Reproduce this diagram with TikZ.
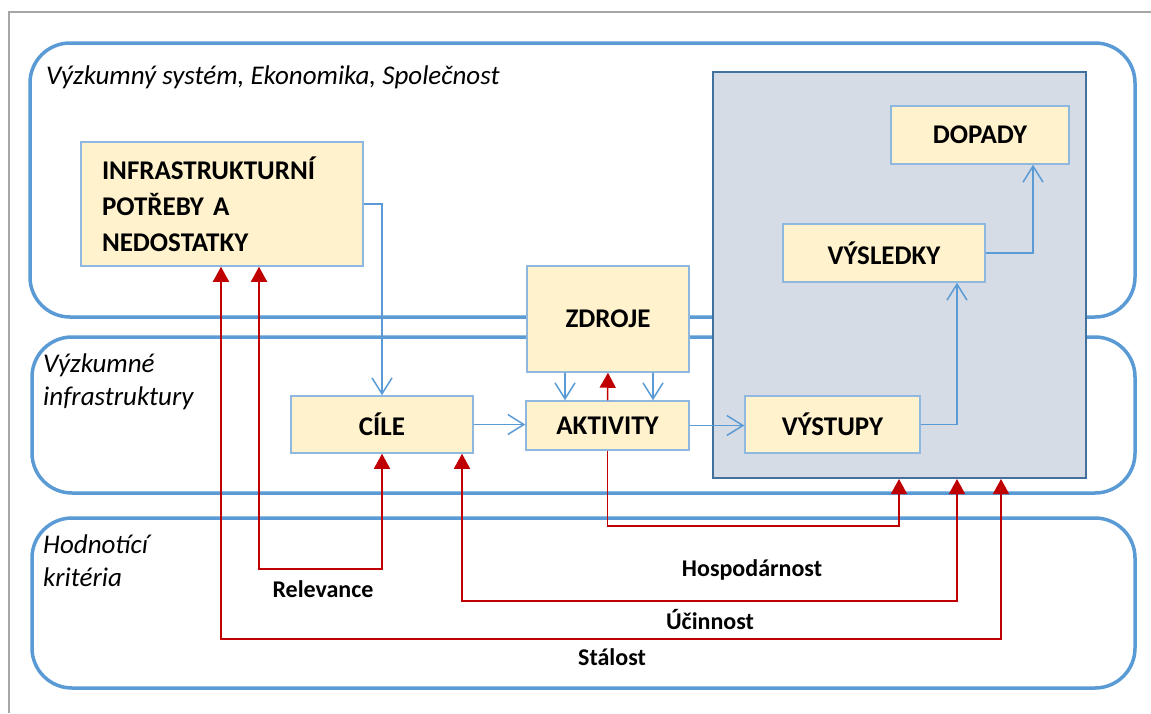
\documentclass[tikz,border=0pt]{standalone}
\usepackage{fontspec}
\setmainfont{Carlito}
\usetikzlibrary{arrows.meta}
\definecolor{frameblue}{HTML}{5B9BD5}
\definecolor{nodeborder}{HTML}{8FB8E0}
\definecolor{nodefill}{HTML}{FFF2CC}
\definecolor{grayfill}{HTML}{D6DCE5}
\definecolor{grayborder}{HTML}{41719C}
\definecolor{redline}{HTML}{C00000}
\definecolor{outerframe}{HTML}{A6A6A6}
\tikzset{
  layer/.style={draw=frameblue, line width=3.5pt, rounded corners=40pt},
  box/.style={draw=nodeborder, fill=nodefill, line width=1.5pt, inner sep=0pt,
    font=\fontsize{27}{36}\selectfont\bfseries},
  impact/.style={draw=grayborder, fill=grayfill, line width=2pt, inner sep=0pt},
  flow/.style={draw=frameblue, line width=1.5pt, -{Straight Barb[length=16pt,width=20pt]}},
  crit/.style={draw=redline, line width=1.5pt, -{Triangle[length=15pt,width=16pt]}},
  crit2/.style={draw=redline, line width=1.5pt, {Triangle[length=15pt,width=16pt]}-{Triangle[length=15pt,width=16pt]}},
  laytext/.style={font=\fontsize{27}{33}\selectfont\itshape, inner sep=0pt, align=left},
  crittext/.style={font=\fontsize{24}{28}\selectfont\bfseries, inner sep=0pt, anchor=base},
}
\begin{document}
\begin{tikzpicture}[x=1pt,y=-1pt]
\useasboundingbox (0,0) rectangle (1151,713);
\fill[white] (0,0) rectangle (1151,713);
% outer frame
\draw[outerframe, line width=2pt] (9,713) -- (9,12) -- (1151,12);
% layers
\draw[layer] (30,43) rectangle (1135,317);
\draw[layer] (32,337) rectangle (1135,493);
\draw[layer] (32,518) rectangle (1135,688);
\node[laytext, anchor=base west] (lay1) at (46,84) {Výzkumný systém, Ekonomika, Společnost};
\node[laytext, anchor=base west] (lay2) at (43,372) {Výzkumné};
\node[laytext, anchor=base west] (lay2b) at (43,405) {infrastruktury};
\node[laytext, anchor=base west] (lay3) at (43,553) {Hodnotící};
\node[laytext, anchor=base west] (lay3b) at (43,586) {kritéria};
% impact box
\node[impact, minimum width=373pt, minimum height=406pt] (impactbox) at (899.5,275) {};
% nodes
\node[box, minimum width=282pt, minimum height=124pt, text width=240pt, align=left] (infra) at (222,204) {INFRASTRUKTURNÍ\\POTŘEBY A\\NEDOSTATKY};
\node[box, minimum width=178pt, minimum height=58pt] (dopady) at (980,135) {DOPADY};
\node[box, minimum width=202pt, minimum height=58pt] (vysledky) at (884,253) {VÝSLEDKY};
\node[box, minimum width=162pt, minimum height=106pt] (zdroje) at (608,319) {ZDROJE};
\node[box, minimum width=163pt, minimum height=49pt] (akt) at (607.5,425.5) {AKTIVITY};
\node[box, minimum width=175pt, minimum height=57pt] (vystupy) at (832.5,424.5) {VÝSTUPY};
\node[box, minimum width=182pt, minimum height=57pt] (cile) at (382,424.5) {CÍLE};
% blue flows
\draw[flow] (infra.east) -| (cile.north);
\draw[flow] (cile.east) -- (cile.east -| akt.west);
\draw[flow] (akt.east) -- (akt.east -| vystupy.west);
\draw[flow] ([xshift=-43pt]zdroje.south) -- ([xshift=-43pt]zdroje.south |- akt.north);
\draw[flow] ([xshift=45pt]zdroje.south) -- ([xshift=45pt]zdroje.south |- akt.north);
\draw[flow] (vystupy.east) -| ([xshift=73pt]vysledky.south);
\draw[flow] (vysledky.east) -| ([xshift=53pt]dopady.south);
% red criteria
\coordinate (hp) at (899,526);
\coordinate (uc) at (957,601);
\coordinate (st) at (1001,639);
\coordinate (rel) at (0,569);
\draw[crit] (akt.north) -- (zdroje.south);
\draw[crit] (akt.south) |- (hp) -- (hp |- impactbox.south);
\draw[crit2] ([xshift=37pt]infra.south) -- ([xshift=37pt]infra.south |- rel) -- (cile.south |- rel) -- (cile.south);
\draw[crit2] ([xshift=80pt]cile.south) -- ([xshift=80pt]cile.south |- uc) -- (uc) -- (uc |- impactbox.south);
\draw[crit2] ([xshift=-1pt]infra.south) -- ([xshift=-1pt]infra.south |- st) -- (st) -- (st |- impactbox.south);
\node[crittext] (relevance) at (323,597) {Relevance};
\node[crittext] (hosp) at (752,576) {Hospodárnost};
\node[crittext] (ucin) at (710,629) {Účinnost};
\node[crittext] (stal) at (612,665) {Stálost};
\end{tikzpicture}
\end{document}
